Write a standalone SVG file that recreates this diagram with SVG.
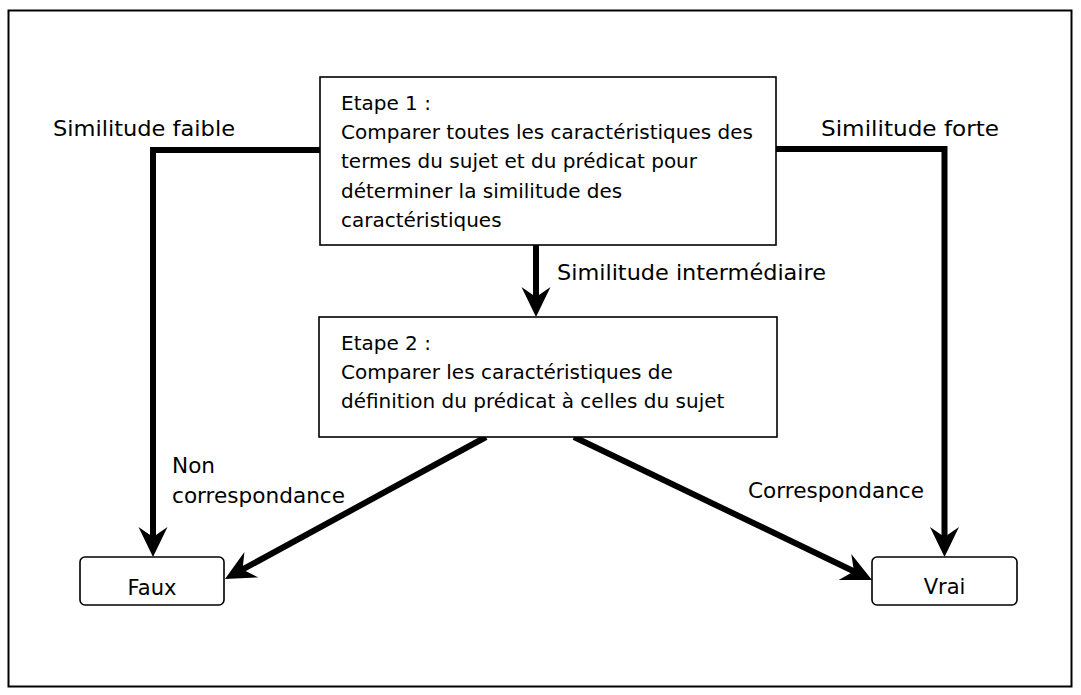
<svg xmlns="http://www.w3.org/2000/svg" width="1081" height="695" viewBox="0 0 1081 695">
<style>
text{font-family:"DejaVu Sans","Liberation Sans",sans-serif;font-size:20px;fill:#000}
.lbl{font-size:21px}
.box{fill:#fff;stroke:#000;stroke-width:1.6}
.rbox{fill:#fff;stroke:#000;stroke-width:1.6}
.edge{fill:none;stroke:#000;stroke-width:6;stroke-linejoin:miter}
.c{text-anchor:middle}
</style>
<defs>
<marker id="arr" markerUnits="userSpaceOnUse" orient="auto" overflow="visible" markerWidth="1" markerHeight="1" refX="0" refY="0">
<path d="M18,0 L-12,-14.5 L-2,0 L-12,14.5 Z" fill="#000"/>
</marker>
</defs>
<rect x="8.5" y="10.5" width="1063" height="676" fill="#fff" stroke="#000" stroke-width="2"/>
<g id="connectors">
<path class="edge" d="M320,150 H153 V539" marker-end="url(#arr)"/>
<path class="edge" d="M776,149 H944.5 V539" marker-end="url(#arr)"/>
<path class="edge" d="M536,245 V299" marker-end="url(#arr)"/>
<path class="edge" d="M486,437 L240.8,570.4" marker-end="url(#arr)"/>
<path class="edge" d="M574,437 L855.8,572.2" marker-end="url(#arr)"/>
<text class="lbl" x="53" y="136" textLength="182" lengthAdjust="spacingAndGlyphs">Similitude faible</text>
<text class="lbl" x="821" y="136" textLength="178" lengthAdjust="spacingAndGlyphs">Similitude forte</text>
<text class="lbl" x="557" y="280" textLength="269" lengthAdjust="spacingAndGlyphs">Similitude intermédiaire</text>
<text class="lbl" x="172" y="473" textLength="43" lengthAdjust="spacingAndGlyphs">Non</text>
<text class="lbl" x="172" y="503" textLength="173" lengthAdjust="spacingAndGlyphs">correspondance</text>
<text class="lbl" x="748" y="498" textLength="176" lengthAdjust="spacingAndGlyphs">Correspondance</text>
</g>
<g id="etape1">
<rect class="box" x="320" y="77" width="456" height="168"/>
<text x="341" y="110">Etape 1 :</text>
<text x="341" y="139">Comparer toutes les caractéristiques des</text>
<text x="341" y="168">termes du sujet et du prédicat pour</text>
<text x="341" y="198">déterminer la similitude des</text>
<text x="341" y="227">caractéristiques</text>
</g>
<g id="etape2">
<rect class="box" x="319" y="317" width="458" height="120"/>
<text x="341" y="350">Etape 2 :</text>
<text x="341" y="379">Comparer les caractéristiques de</text>
<text x="341" y="408">définition du prédicat à celles du sujet</text>
</g>
<g id="faux">
<rect class="rbox" x="80" y="557" width="144" height="48" rx="5" ry="5"/>
<text class="c lbl" x="152" y="595">Faux</text>
</g>
<g id="vrai">
<rect class="rbox" x="872" y="557" width="145" height="48" rx="5" ry="5"/>
<text class="c lbl" x="944.5" y="594">Vrai</text>
</g>
</svg>
